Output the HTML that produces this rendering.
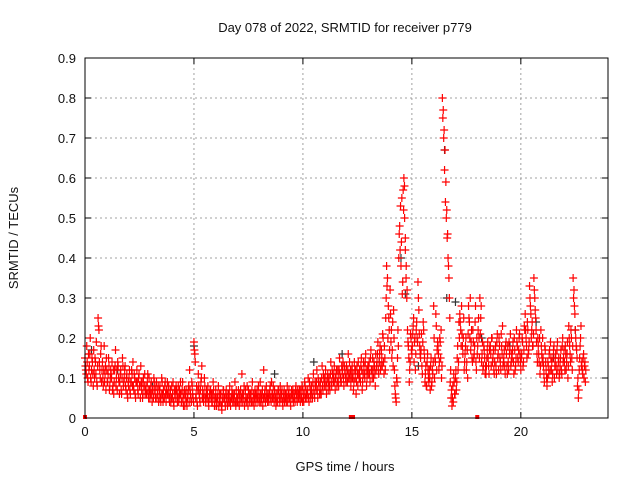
<!DOCTYPE html>
<html><head><meta charset="utf-8"><style>
body{margin:0;background:#fff}
svg text{font-family:"Liberation Sans",sans-serif;font-size:13px;fill:#111}
</style></head><body>
<svg id="chart" width="640" height="480" xmlns="http://www.w3.org/2000/svg">
<rect width="640" height="480" fill="#fff"/>
<text x="345" y="32" text-anchor="middle">Day 078 of 2022, SRMTID for receiver p779</text>
<text x="345" y="471" text-anchor="middle">GPS time / hours</text>
<text transform="translate(18,238) rotate(-90)" text-anchor="middle">SRMTID / TECUs</text>
<g id="grid"></g>
<g id="ticks"></g>
<g id="black"></g>
<g id="red"></g>
<rect x="85" y="58" width="523" height="360" fill="none" stroke="#000" stroke-width="1"/>
</svg>
<script>
const xTicks=[0,5,10,15,20];
const yTicks=[0,0.1,0.2,0.3,0.4,0.5,0.6,0.7,0.8,0.9];
const yTickLabels=["0","0.1","0.2","0.3","0.4","0.5","0.6","0.7","0.8","0.9"];
const binTimes=[0,0.2,0.4,0.6,0.8,1,1.2,1.4,1.6,1.8,2,2.2,2.4,2.6,2.8,3,3.2,3.4,3.6,3.8,4,4.2,4.4,4.6,4.8,5,5.2,5.4,5.6,5.8,6,6.2,6.4,6.6,6.8,7,7.2,7.4,7.6,7.8,8,8.2,8.4,8.6,8.8,9,9.2,9.4,9.6,9.8,10,10.2,10.4,10.6,10.8,11,11.2,11.4,11.6,11.8,12,12.2,12.4,12.6,12.8,13,13.2,13.4,13.6,13.8,14,14.2,14.4,14.6,14.8,15,15.2,15.4,15.6,15.8,16,16.2,16.4,16.6,16.8,17,17.2,17.4,17.6,17.8,18,18.2,18.4,18.6,18.8,19,19.2,19.4,19.6,19.8,20,20.2,20.4,20.6,20.8,21,21.2,21.4,21.6,21.8,22,22.2,22.4,22.6,22.8];
const redValues=[
[.15,.12,.18,.10,.16],[.13,.20,.09,.15,.11],[.17,.10,.14,.19,.08],[.25,.22,.12,.16,.09],[.14,.08,.18,.11,.07],
[.12,.09,.15,.07,.10],[.11,.14,.08,.06,.12],[.17,.10,.07,.13,.09],[.09,.12,.06,.15,.08],[.10,.13,.07,.11,.05],
[.08,.12,.06,.09,.11],[.14,.07,.10,.05,.09],[.09,.06,.11,.08,.13],[.07,.05,.10,.08,.06],[.08,.06,.11,.05,.07],
[.06,.09,.04,.07,.10],[.07,.05,.09,.06,.08],[.05,.08,.04,.10,.06],[.07,.05,.09,.04,.06],[.06,.08,.04,.07,.05],
[.05,.09,.03,.06,.07],[.07,.04,.08,.05,.06],[.06,.04,.09,.03,.07],[.05,.07,.03,.06,.08],[.12,.06,.04,.08,.05],
[.19,.16,.05,.08,.03],[.11,.06,.04,.09,.13],[.07,.04,.10,.05,.06],[.05,.08,.03,.06,.07],[.06,.04,.09,.05,.03],
[.07,.03,.05,.08,.04],[.04,.06,.02,.05,.07],[.05,.03,.07,.04,.06],[.04,.08,.03,.05,.06],[.06,.04,.09,.03,.05],
[.05,.07,.03,.06,.04],[.11,.04,.06,.03,.07],[.05,.08,.03,.06,.04],[.06,.04,.09,.05,.03],[.07,.04,.06,.05,.08],
[.05,.09,.04,.06,.03],[.12,.06,.04,.08,.05],[.06,.04,.07,.05,.09],[.05,.08,.04,.06,.03],[.06,.04,.07,.05,.08],
[.05,.07,.03,.06,.04],[.06,.04,.08,.05,.07],[.05,.03,.07,.06,.04],[.06,.04,.08,.05,.07],[.05,.07,.04,.06,.08],
[.07,.04,.09,.05,.06],[.06,.10,.04,.08,.05],[.08,.05,.11,.06,.09],[.07,.12,.05,.09,.06],[.09,.06,.13,.07,.10],
[.08,.12,.06,.10,.07],[.10,.07,.14,.08,.11],[.09,.13,.07,.11,.08],[.12,.08,.15,.10,.09],[.11,.14,.08,.12,.10],
[.13,.09,.16,.11,.10],[.08,.12,.10,.07,.14],[.10,.06,.13,.08,.11],[.12,.09,.15,.07,.11],[.13,.10,.16,.08,.12],
[.11,.14,.09,.17,.12],[.15,.10,.13,.08,.12],[.14,.19,.11,.16,.12],[.17,.13,.20,.11,.15],[.25,.38,.35,.28,.22],
[.32,.19,.15,.24,.27],[.12,.06,.04,.09,.22],[.40,.48,.53,.44,.31],[.57,.60,.50,.45,.35,.30],[.22,.18,.09,.14,.20],
[.16,.21,.25,.19,.12],[.22,.20,.34,.27,.18],[.15,.21,.11,.24,.17],[.09,.13,.08,.16,.10],[.12,.07,.15,.09,.11],
[.28,.10,.14,.23,.17],[.18,.12,.20,.15,.10],[.80,.77,.72,.67,.59],[.52,.46,.38,.30,.09],[.05,.03,.08,.11,.06],
[.10,.07,.15,.12,.24],[.26,.22,.28,.18,.20],[.12,.16,.20,.14,.10],[.28,.24,.30,.19,.15],[.22,.15,.18,.28,.12],
[.16,.22,.20,.30,.25],[.14,.19,.13,.17,.11],[.11,.15,.19,.13,.17],[.18,.13,.20,.15,.12],[.14,.18,.11,.21,.16],
[.20,.15,.12,.18,.23],[.14,.17,.11,.19,.13],[.18,.12,.16,.21,.14],[.15,.19,.11,.17,.13],[.22,.18,.14,.20,.16],
[.12,.16,.19,.14,.23],[.26,.20,.15,.22,.17],[.33,.28,.20,.24,.18],[.35,.30,.25,.19,.14],[.18,.14,.11,.22,.16],
[.20,.13,.09,.17,.12],[.08,.14,.11,.17,.19],[.12,.09,.15,.18,.13],[.16,.11,.19,.14,.10],[.13,.17,.11,.20,.15],
[.14,.18,.12,.16,.10],[.23,.18,.14,.20,.12],[.35,.32,.26,.20,.17],[.08,.05,.12,.18,.23],[.14,.11,.16,.13,.09]];
const redValuesB=[
[.13,.11,.14,.09,.12],[.16,.10,.12,.14,.08],[.12,.15,.11,.09,.13],[.23,.14,.10,.18,.12],[.10,.12,.09,.13,.15],
[.09,.11,.13,.08,.12],[.10,.07,.12,.09,.13],[.08,.12,.14,.10,.06],[.11,.07,.10,.13,.09],[.12,.08,.10,.06,.09],
[.10,.07,.09,.12,.08],[.08,.11,.06,.09,.12],[.07,.10,.08,.05,.09],[.09,.06,.08,.11,.07],[.06,.09,.07,.10,.05],
[.08,.06,.07,.05,.09],[.06,.08,.05,.07,.04],[.07,.05,.06,.09,.04],[.05,.08,.06,.07,.09],[.07,.05,.06,.04,.08],
[.06,.04,.07,.05,.08],[.05,.06,.04,.07,.09],[.04,.07,.05,.06,.03],[.06,.04,.05,.07,.04],[.07,.05,.09,.06,.04],
[.17,.14,.06,.04,.07],[.08,.05,.07,.10,.05],[.05,.06,.08,.04,.07],[.06,.04,.05,.07,.05],[.04,.06,.07,.03,.05],
[.05,.04,.06,.03,.06],[.06,.03,.04,.07,.05],[.04,.06,.05,.03,.05],[.06,.04,.05,.07,.04],[.05,.06,.04,.07,.04],
[.04,.06,.05,.07,.05],[.06,.05,.08,.04,.05],[.04,.05,.07,.05,.06],[.05,.07,.04,.06,.05],[.06,.05,.07,.04,.06],
[.04,.06,.05,.07,.05],[.05,.07,.05,.06,.04],[.05,.06,.08,.04,.06],[.06,.05,.07,.05,.04],[.05,.07,.06,.04,.06],
[.06,.04,.05,.07,.05],[.05,.06,.04,.06,.05],[.04,.06,.05,.07,.05],[.05,.07,.06,.04,.06],[.06,.05,.07,.05,.04],
[.05,.06,.08,.07,.05],[.07,.05,.09,.06,.07],[.06,.09,.07,.05,.08],[.09,.07,.10,.08,.06],[.07,.10,.08,.11,.09],
[.10,.08,.09,.11,.09],[.08,.11,.09,.12,.10],[.11,.09,.10,.12,.09],[.10,.12,.11,.09,.13],[.12,.10,.13,.11,.09],
[.11,.12,.10,.14,.12],[.10,.13,.11,.09,.12],[.12,.09,.11,.14,.10],[.10,.13,.12,.09,.14],[.11,.14,.12,.10,.13],
[.13,.11,.15,.12,.10],[.12,.14,.11,.16,.13],[.16,.12,.14,.18,.13],[.15,.21,.14,.18,.12],[.30,.33,.20,.25,.17],
[.26,.22,.17,.13,.20],[.08,.05,.10,.15,.18],[.46,.42,.38,.55,.34],[.52,.58,.42,.38,.32],[.19,.15,.12,.21,.17],
[.18,.23,.14,.20,.16],[.24,.19,.30,.21,.16],[.17,.13,.19,.22,.15],[.11,.08,.14,.12,.09],[.10,.13,.08,.12,.14],
[.20,.15,.26,.12,.19],[.16,.14,.19,.22,.13],[.75,.70,.62,.54,.50],[.45,.40,.35,.25,.12],[.07,.05,.04,.09,.06],
[.12,.09,.18,.14,.20],[.24,.18,.21,.16,.25],[.14,.18,.12,.17,.21],[.25,.20,.17,.22,.14],[.19,.16,.24,.14,.20],
[.18,.25,.15,.21,.28],[.16,.12,.18,.15,.13],[.13,.17,.15,.11,.18],[.16,.20,.14,.17,.11],[.17,.13,.19,.15,.12],
[.18,.14,.21,.16,.13],[.15,.13,.18,.16,.11],[.14,.19,.17,.13,.16],[.17,.14,.20,.12,.15],[.19,.15,.17,.21,.14],
[.15,.20,.13,.17,.22],[.22,.18,.24,.16,.19],[.30,.26,.22,.18,.21],[.32,.27,.22,.16,.20],[.16,.20,.13,.18,.14],
[.15,.11,.18,.14,.10],[.10,.13,.16,.12,.15],[.14,.11,.17,.10,.15],[.13,.17,.12,.15,.11],[.15,.12,.18,.14,.17],
[.12,.16,.14,.19,.13],[.20,.16,.22,.15,.18],[.30,.28,.22,.18,.15],[.10,.07,.15,.20,.13],[.12,.15,.10,.14,.12]];
const blackTimes=[0.3,1.5,3.1,5.0,6.6,8.7,10.5,11.8,13.5,14.5,14.7,15.3,16.5,16.6,17.0,18.2,19.5,20.7,21.5,22.5];
const blackValues=[.17,.12,.08,.18,.06,.11,.14,.16,.14,.40,.31,.13,.67,.30,.29,.20,.18,.24,.15,.22];
const zeroMarkTimes=[0,12.2,12.3,18.0];

const NS="http://www.w3.org/2000/svg";
const L=85,R=608,T=58,B=418,XMAX=24,YMAX=0.9;
const xs=v=>L+(R-L)*v/XMAX, ys=v=>B-(B-T)*v/YMAX;
function mk(tag,attrs,parent){const e=document.createElementNS(NS,tag);for(const k in attrs)e.setAttribute(k,attrs[k]);parent.appendChild(e);return e;}
const grid=document.getElementById('grid'),ticks=document.getElementById('ticks');
yTicks.forEach((v,i)=>{const y=ys(v);
 if(i>0&&i<yTicks.length-1){const g=mk('line',{x1:L,x2:R,y1:y,y2:y,stroke:'#a0a0a0','stroke-dasharray':'2,3'},grid);
 }
 mk('line',{x1:L,x2:L+6,y1:y,y2:y,stroke:'#000'},ticks);mk('line',{x1:R,x2:R-6,y1:y,y2:y,stroke:'#000'},ticks);
 const t=mk('text',{x:L-9,y:y+5,'text-anchor':'end'},ticks);t.textContent=yTickLabels[i];
 });
xTicks.forEach(v=>{const x=xs(v);
 if(v>0){const g=mk('line',{x1:x,x2:x,y1:T,y2:B,stroke:'#a0a0a0','stroke-dasharray':'2,3'},grid);
 }
 mk('line',{x1:x,x2:x,y1:B,y2:B-6,stroke:'#000'},ticks);mk('line',{x1:x,x2:x,y1:T,y2:T+6,stroke:'#000'},ticks);
 const t=mk('text',{x:x,y:B+18,'text-anchor':'middle'},ticks);t.textContent=String(v);
 });
function cross(x,y,col,parent){return mk('path',{d:`M${x-4},${y}h8M${x},${y-4}v8`,stroke:col,'stroke-width':1.2,fill:'none'},parent);}
const black=document.getElementById('black'),red=document.getElementById('red');
blackTimes.forEach((t,i)=>{const p=cross(xs(t),ys(blackValues[i]),'#333',black);
 });
[redValues,redValuesB].forEach((arr,k)=>{
 binTimes.forEach((t,i)=>{const vals=arr[i];vals.forEach((v,j)=>{
  const p=cross(xs(t+0.2*(j+0.5*k)/vals.length),ys(v),'#f00',red);
  });});});
zeroMarkTimes.forEach(t=>{const r=mk('rect',{x:xs(t)-2,y:B-3,width:4,height:4,fill:'#f00'},red);
 });
</script>
</body></html>
